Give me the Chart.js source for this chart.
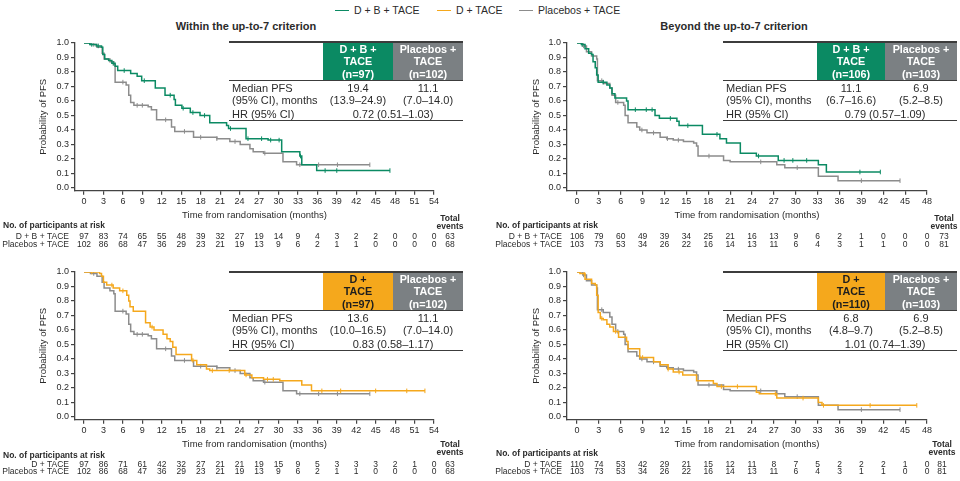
<!DOCTYPE html>
<html>
<head>
<meta charset="utf-8">
<script src="https://cdn.jsdelivr.net/npm/chart.js@4.4.1/dist/chart.umd.min.js"></script>
<style>
  body { margin: 0; background: #fff; font-family: "Liberation Sans", Arial, sans-serif; color: #2b2b2b; }
  #page { position: relative; width: 960px; height: 481px; overflow: hidden; }
  canvas { position: absolute; }
  .abs { position: absolute; white-space: nowrap; }
  .title { font-weight: bold; font-size: 11px; line-height: 13px; transform: translateX(-50%); }
  .leg { font-size: 10.5px; line-height: 12px; top: 4px; }
  .leg i { display: inline-block; width: 14px; height: 0; border-top: 1.8px solid; vertical-align: middle; margin-right: 5px; margin-top: -1px; }
  .tbl { position: absolute; width: 234px; height: 82px; font-size: 11px; color: #2b2b2b; }
  .tbl .rule { position: absolute; left: 0; width: 100%; background: #3c3c3c; }
  .tbl .hd { position: absolute; top: 1.5px; height: 37.5px; color: #fff; font-weight: bold; text-align: center;
             line-height: 12.3px; padding-top: 0.6px; box-sizing: border-box; font-size: 10.8px; }
  .tbl .tx { position: absolute; line-height: 12px; white-space: nowrap; }
  .tbl .ctr { transform: translateX(-50%); }
</style>
</head>
<body>
<div id="page">
  <div class="abs leg" style="left:335px"><i style="border-color:#0b8a63"></i>D + B + TACE</div>
  <div class="abs leg" style="left:437px"><i style="border-color:#f5a81c"></i>D + TACE</div>
  <div class="abs leg" style="left:519px"><i style="border-color:#8c8c8c"></i>Placebos + TACE</div>
  <div class="abs title" style="left:246px;top:20px">Within the up-to-7 criterion</div>
  <div class="abs title" style="left:734px;top:20px">Beyond the up-to-7 criterion</div>
</div>
<script>
// ---------- Data ----------
const monthsWithin = [0, 3, 6, 9, 12, 15, 18, 21, 24, 27, 30, 33, 36, 39, 42, 45, 48, 51, 54];
const monthsBeyond = [0, 3, 6, 9, 12, 15, 18, 21, 24, 27, 30, 33, 36, 39, 42, 45, 48];
const probTicks = [0, 0.1, 0.2, 0.3, 0.4, 0.5, 0.6, 0.7, 0.8, 0.9, 1.0];

// KM curves: [month, probability of PFS] at each drop
const dbWithin = [[0,1],[0.9,0.99],[1.9,0.98],[2.7,0.97],[2.9,0.92],[3.2,0.89],[3.8,0.88],[4.3,0.86],[4.8,0.84],[5.2,0.81],
  [7.2,0.79],[8.2,0.77],[8.9,0.74],[11,0.69],[12.5,0.64],[13.9,0.61],[14.1,0.57],[15.1,0.55],[16.4,0.52],[17.9,0.50],
  [19.4,0.45],[22,0.43],[22.3,0.41],[25,0.34],[28.4,0.33],[30.5,0.25],[33.3,0.22],[33.6,0.16],[35.9,0.12],[47.2,0.12]];
const pboWithin = [[0,1],[1,0.99],[2,0.97],[2.8,0.93],[3.1,0.89],[4,0.87],[4.6,0.85],[4.8,0.73],[6.5,0.71],[6.9,0.64],
  [7.2,0.59],[7.7,0.57],[9.9,0.56],[10.4,0.54],[11.2,0.47],[13.5,0.42],[14,0.39],[16.9,0.35],[20.5,0.34],[22.5,0.32],
  [24.1,0.30],[25.6,0.27],[26.1,0.25],[27.7,0.24],[30.7,0.18],[32.8,0.16],[44.1,0.16]];
const dbBeyond = [[0,1],[0.6,0.99],[1.1,0.96],[1.6,0.93],[2.0,0.92],[2.2,0.87],[2.5,0.83],[2.7,0.78],[2.9,0.73],[4.1,0.71],
  [4.5,0.69],[4.8,0.65],[5.2,0.62],[6.8,0.60],[7.0,0.54],[10.7,0.50],[11.3,0.48],[13.7,0.46],[14,0.43],[17.2,0.37],
  [19.6,0.34],[20.5,0.31],[22.4,0.24],[24.6,0.22],[27.6,0.19],[33.1,0.16],[34.2,0.11],[41.6,0.11]];
const pboBeyond = [[0,1],[0.8,0.98],[1.3,0.94],[2.0,0.91],[2.7,0.89],[2.8,0.74],[3.6,0.72],[4.5,0.69],[4.8,0.64],[5.3,0.59],
  [6.4,0.57],[6.6,0.50],[7.0,0.45],[8.2,0.42],[8.6,0.40],[9.6,0.38],[11.4,0.35],[12.3,0.34],[13.2,0.33],[14.6,0.32],
  [16.0,0.31],[16.4,0.29],[16.6,0.22],[20.1,0.19],[21,0.18],[27.4,0.16],[28.5,0.14],[33.1,0.08],[35.8,0.05],[44.3,0.05]];
const dWithin = [[0,1],[2.4,0.99],[2.7,0.97],[3.0,0.93],[3.5,0.91],[4.5,0.89],[5.5,0.87],[6.6,0.84],[6.9,0.80],[7.1,0.76],
  [7.6,0.73],[9.5,0.65],[10.2,0.62],[10.8,0.60],[12.2,0.57],[12.8,0.54],[13.3,0.52],[13.7,0.48],[14.2,0.43],[16.6,0.39],
  [17.4,0.36],[18.9,0.33],[19.4,0.32],[24.8,0.29],[25.9,0.27],[27.7,0.26],[30.2,0.25],[33.6,0.22],[35.1,0.18],[52.6,0.18]];
const dBeyond = [[0,1],[0.4,0.99],[1.1,0.95],[2.0,0.92],[2.5,0.91],[2.7,0.84],[2.9,0.72],[3.2,0.68],[3.6,0.67],[4.1,0.64],
  [4.5,0.62],[5.0,0.59],[5.7,0.55],[6.8,0.52],[7.0,0.47],[8.6,0.41],[10.5,0.38],[11.4,0.36],[12.5,0.33],[13.2,0.31],
  [14.5,0.29],[16.4,0.25],[18.7,0.23],[19.2,0.21],[24.6,0.17],[25,0.16],[27.4,0.13],[33.1,0.10],[33.6,0.08],[46.6,0.08]];

// censored observations (months)
const dbWithinCens = [1.2, 2.2, 4.5, 6.2, 9.3, 13.3, 15.3, 16.8, 18.6, 22.6, 25.3, 27.4, 28.8, 30.1, 33.4, 37.2, 39.0, 47.2];
const pboWithinCens = [1.5, 6.0, 8.2, 9.0, 12.6, 15.5, 18.0, 20.5, 23.3, 27.9, 33.3, 36.2, 39.1, 44.1];
const dbBeyondCens = [0.7, 3.6, 8.0, 9.5, 10.3, 12.8, 15.2, 19.2, 24.9, 28.4, 29.6, 31.5, 38.8, 41.6];
const pboBeyondCens = [0.9, 3.4, 5.6, 8.9, 10.5, 12.4, 13.9, 18.1, 25.2, 30.2, 39.0, 44.3];
const dWithinCens = [1.2, 4.3, 6.0, 10.5, 16.8, 19.8, 22.4, 25.0, 28.3, 29.2, 36.7, 39.6, 45.0, 49.8, 52.6];
const dBeyondCens = [1.0, 3.4, 5.3, 9.0, 12.5, 14.0, 19.8, 22.0, 27.2, 31.0, 33.8, 40.2, 46.6];

// participants at risk (one value per x tick) and total events
const riskDbWithin = [97, 83, 74, 65, 55, 48, 39, 32, 27, 19, 14, 9, 4, 3, 2, 2, 0, 0, 0];
const riskPboWithin = [102, 86, 68, 47, 36, 29, 23, 21, 19, 13, 9, 6, 2, 1, 1, 0, 0, 0, 0];
const riskDWithin = [97, 86, 71, 61, 42, 32, 27, 21, 21, 19, 15, 9, 5, 3, 3, 3, 2, 1, 0];
const riskDbBeyond = [106, 79, 60, 49, 39, 34, 25, 21, 16, 13, 9, 6, 2, 1, 0, 0, 0];
const riskPboBeyond = [103, 73, 53, 34, 26, 22, 16, 14, 13, 11, 6, 4, 3, 1, 1, 0, 0];
const riskDBeyond = [110, 74, 53, 42, 29, 21, 15, 12, 11, 8, 7, 5, 2, 2, 2, 1, 0];
const eventsWithin = [63, 68, 63, 68];   // D+B, Pbo, D, Pbo
const eventsBeyond = [73, 81, 81, 81];

// summary tables
const headDB = ['D + B +', 'TACE'];
const headD = ['D +', 'TACE'];
const headPbo = ['Placebos +', 'TACE'];
const medDbWithin = ['19.4', '(13.9–24.9)', '(n=97)'];
const medDbBeyond = ['11.1', '(6.7–16.6)', '(n=106)'];
const medDWithin = ['13.6', '(10.0–16.5)', '(n=97)'];
const medDBeyond = ['6.8', '(4.8–9.7)', '(n=110)'];
const medPboWithin = ['11.1', '(7.0–14.0)', '(n=102)'];
const medPboBeyond = ['6.9', '(5.2–8.5)', '(n=103)'];
const hrText = ['0.72 (0.51–1.03)', '0.79 (0.57–1.09)', '0.83 (0.58–1.17)', '1.01 (0.74–1.39)'];

// ---------- Style ----------
const FONT = '"Liberation Sans", Arial, sans-serif';
const C_DB = '#0b8a63', C_D = '#f5a81c', C_PBO = '#8c8c8c', C_PBO_HDR = '#7b8083', INK = '#2b2b2b', AXIS = '#444';

function stepAt(curve, t){
  let v = curve[0][1];
  for (const [x, y] of curve){ if (x <= t) v = y; else break; }
  return v;
}

const riskPlugin = {
  id: 'risk',
  afterDraw(chart, args, o){
    const {ctx} = chart, xs = chart.scales.x, ox = o.origin[0], oy = o.origin[1];
    ctx.save();
    ctx.fillStyle = INK; ctx.textBaseline = 'middle';
    ctx.font = 'bold 8.5px ' + FONT;
    ctx.textAlign = 'left';
    ctx.fillText('No. of participants at risk', o.headX - ox, o.headY - oy);
    ctx.textAlign = 'center';
    ctx.fillText('Total', o.totX - ox, o.totY[0] - oy);
    ctx.fillText('events', o.totX - ox, o.totY[1] - oy);
    ctx.font = '8.5px ' + FONT;
    o.rows.forEach(r => {
      ctx.textAlign = 'right';
      ctx.fillText(r.label, o.labelX - ox, r.y - oy);
      ctx.textAlign = 'center';
      r.values.forEach((v, i) => ctx.fillText(String(v), xs.getPixelForValue(o.ticks[i]), r.y - oy));
      ctx.fillText(String(r.total), o.totX - ox, r.y - oy);
    });
    ctx.restore();
  }
};

function buildPanel(p){
  const [bl, bt, bw, bh] = p.box;
  const [al, ar, at, ab] = p.area;
  const cv = document.createElement('canvas');
  cv.width = bw; cv.height = bh;
  cv.style.left = bl + 'px'; cv.style.top = bt + 'px';
  document.getElementById('page').appendChild(cv);
  const xH = 30;
  const datasets = [];
  p.curves.forEach(c => {
    datasets.push({ data: c.data.map(([x, y]) => ({x, y})), borderColor: c.color, borderWidth: 1.5,
      stepped: true, pointRadius: 0, fill: false });
    datasets.push({ data: c.censor.map(t => ({x: t, y: stepAt(c.data, t)})), showLine: false,
      borderColor: c.color, backgroundColor: c.color, pointStyle: 'line', rotation: 90, pointRadius: 2.3, borderWidth: 1 });
  });
  const tickFont = { size: 9, family: FONT };
  new Chart(cv, {
    type: 'line',
    data: { datasets },
    options: {
      responsive: false, animation: false, devicePixelRatio: 1,
      layout: { padding: { left: al - bl - p.yW, right: bl + bw - ar, top: at - bt, bottom: bt + bh - ab - xH } },
      plugins: {
        legend: { display: false }, tooltip: { enabled: false },
        risk: { origin: [bl, bt], ticks: p.xTicks, headX: p.headX, headY: p.headY, totX: p.totX, totY: p.totY,
                labelX: p.labelX, rows: p.rows }
      },
      scales: {
        x: {
          type: 'linear', min: p.xMin, max: p.xMax,
          afterFit: s => { s.height = xH; },
          afterBuildTicks: s => { s.ticks = p.xTicks.map(v => ({value: v})); },
          grid: { drawOnChartArea: false, tickLength: 4, color: AXIS, lineWidth: 1.2 },
          border: { color: AXIS, width: 1.3 },
          ticks: { padding: 1, font: tickFont, color: INK, maxRotation: 0, autoSkip: false },
          title: { display: true, text: 'Time from randomisation (months)', font: { size: 9.5, family: FONT }, color: INK, padding: 0 }
        },
        y: {
          type: 'linear', min: -0.019, max: 1,
          afterFit: s => { s.width = p.yW; },
          afterBuildTicks: s => { s.ticks = probTicks.map(v => ({value: v})); },
          grid: { drawOnChartArea: false, tickLength: 4, color: AXIS, lineWidth: 1.2 },
          border: { color: AXIS, width: 1.3 },
          ticks: { padding: 2, font: tickFont, color: INK, callback: v => Number(v).toFixed(1) },
          title: { display: true, text: 'Probability of PFS', font: { size: 9.5, family: FONT }, color: INK, padding: 0 }
        }
      }
    },
    plugins: [riskPlugin]
  });
}

function buildTable(left, top, w1, w2, color, head, med, pbo, hr){
  const t = document.createElement('div');
  t.className = 'tbl';
  t.style.left = left + 'px'; t.style.top = top + 'px';
  const c1 = 94;
  t.innerHTML =
    `<div class="rule" style="top:0;height:1.5px"></div>` +
    `<div class="hd" style="left:${c1}px;width:${w1}px;background:${color};color:${color === C_D ? '#1e1e1e' : '#fff'}">${head[0]}<br>${head[1]}<br>${med[2]}</div>` +
    `<div class="hd" style="left:${c1 + w1}px;width:${w2}px;background:${C_PBO_HDR}">${headPbo[0]}<br>${headPbo[1]}<br>${pbo[2]}</div>` +
    `<div class="rule" style="top:39px;height:1px"></div>` +
    `<div class="tx" style="left:3px;top:40.5px">Median PFS</div>` +
    `<div class="tx" style="left:3px;top:52.5px">(95% CI), months</div>` +
    `<div class="tx" style="left:3px;top:66.5px">HR (95% CI)</div>` +
    `<div class="tx ctr" style="left:${c1 + w1 / 2}px;top:40.5px">${med[0]}</div>` +
    `<div class="tx ctr" style="left:${c1 + w1 / 2}px;top:52.5px">${med[1]}</div>` +
    `<div class="tx ctr" style="left:${c1 + w1 + w2 / 2}px;top:40.5px">${pbo[0]}</div>` +
    `<div class="tx ctr" style="left:${c1 + w1 + w2 / 2}px;top:52.5px">${pbo[1]}</div>` +
    `<div class="tx ctr" style="left:${c1 + w1}px;top:66.5px">${hr}</div>` +
    `<div class="rule" style="top:79.3px;height:1px"></div>`;
  document.getElementById('page').appendChild(t);
}

// ---------- Panels ----------
buildPanel({
  box: [0, 30, 480, 226], area: [75, 434, 43, 190.7], yW: 37, xMin: -1.389, xMax: 54, xTicks: monthsWithin,
  curves: [{ data: dbWithin, censor: dbWithinCens, color: C_DB }, { data: pboWithin, censor: pboWithinCens, color: C_PBO }],
  headX: 3, headY: 226, totX: 450, totY: [218.5, 226.5], labelX: 69,
  rows: [{ label: 'D + B + TACE', values: riskDbWithin, total: eventsWithin[0], y: 236.5 },
         { label: 'Placebos + TACE', values: riskPboWithin, total: eventsWithin[1], y: 244.5 }]
});
buildPanel({
  box: [480, 30, 480, 226], area: [567, 927, 43, 190.7], yW: 36, xMin: -1.371, xMax: 48, xTicks: monthsBeyond,
  curves: [{ data: dbBeyond, censor: dbBeyondCens, color: C_DB }, { data: pboBeyond, censor: pboBeyondCens, color: C_PBO }],
  headX: 496, headY: 226, totX: 944, totY: [218.5, 226.5], labelX: 562,
  rows: [{ label: 'D + B + TACE', values: riskDbBeyond, total: eventsBeyond[0], y: 236.5 },
         { label: 'Placebos + TACE', values: riskPboBeyond, total: eventsBeyond[1], y: 244.5 }]
});
buildPanel({
  box: [0, 258, 480, 223], area: [75, 434, 272, 419.7], yW: 37, xMin: -1.389, xMax: 54, xTicks: monthsWithin,
  curves: [{ data: dWithin, censor: dWithinCens, color: C_D }, { data: pboWithin, censor: pboWithinCens, color: C_PBO }],
  headX: 3, headY: 455.5, totX: 450, totY: [445, 453], labelX: 69,
  rows: [{ label: 'D + TACE', values: riskDWithin, total: eventsWithin[2], y: 464.5 },
         { label: 'Placebos + TACE', values: riskPboWithin, total: eventsWithin[3], y: 472 }]
});
buildPanel({
  box: [480, 258, 480, 223], area: [567, 927, 272, 419.7], yW: 36, xMin: -1.371, xMax: 48, xTicks: monthsBeyond,
  curves: [{ data: dBeyond, censor: dBeyondCens, color: C_D }, { data: pboBeyond, censor: pboBeyondCens, color: C_PBO }],
  headX: 496, headY: 454, totX: 942, totY: [445, 453], labelX: 562,
  rows: [{ label: 'D + TACE', values: riskDBeyond, total: eventsBeyond[2], y: 464.5 },
         { label: 'Placebos + TACE', values: riskPboBeyond, total: eventsBeyond[3], y: 472 }]
});

// ---------- Tables ----------
buildTable(229, 41, 70, 70, C_DB, headDB, medDbWithin, medPboWithin, hrText[0]);
buildTable(723, 41, 68, 72, C_DB, headDB, medDbBeyond, medPboBeyond, hrText[1]);
buildTable(229, 271, 70, 70, C_D, headD, medDWithin, medPboWithin, hrText[2]);
buildTable(723, 271, 68, 72, C_D, headD, medDBeyond, medPboBeyond, hrText[3]);
</script>
</body>
</html>
